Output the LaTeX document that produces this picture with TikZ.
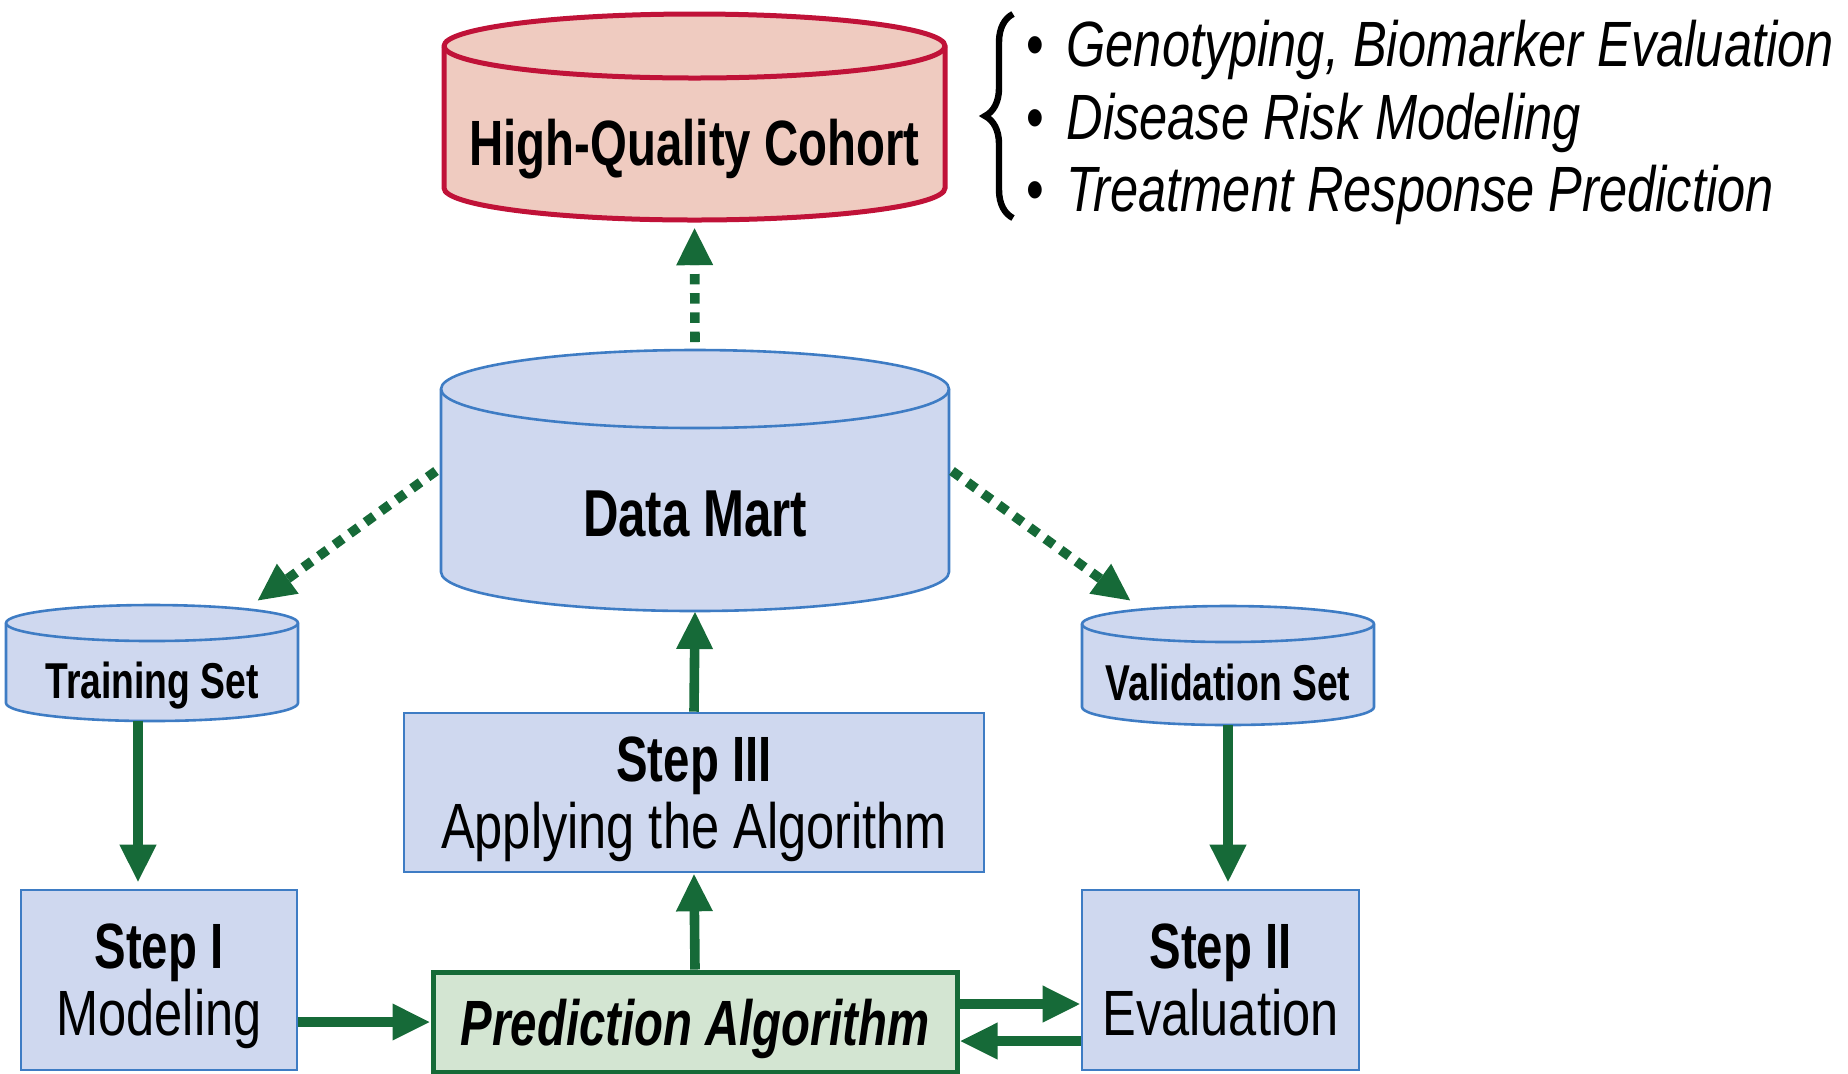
\documentclass[tikz,border=0pt]{standalone}
\usepackage{fontspec}
\setmainfont{Liberation Sans}[FakeStretch=0.79]
\newfontfamily\headfont{Liberation Sans}[FakeStretch=0.74]
\usetikzlibrary{arrows.meta,decorations.pathreplacing}

\definecolor{boxblue}{RGB}{207,216,239}
\definecolor{lineblue}{RGB}{62,124,196}
\definecolor{cohortred}{RGB}{192,18,56}
\definecolor{cohortpink}{RGB}{239,203,192}
\definecolor{flowgreen}{RGB}{22,106,56}
\definecolor{algogreen}{RGB}{211,229,210}

% cylinder: style, cx, top, bottom, half width, y radius, name
\newcommand{\dbcyl}[7]{%
  \path[#1] ({#2-#5},{-#3-#6}) -- ({#2-#5},{-#4+#6})
    arc[start angle=180,end angle=360,x radius=#5,y radius=#6]
    -- ({#2+#5},{-#3-#6})
    arc[start angle=0,end angle=180,x radius=#5,y radius=#6] -- cycle;
  \draw[#1,fill=none] ({#2-#5},{-#3-#6})
    arc[start angle=180,end angle=360,x radius=#5,y radius=#6];
  \coordinate (#7-n) at (#2,-#3);
  \coordinate (#7-s) at (#2,-#4);
}

\tikzset{
  hqcyl/.style={draw=cohortred, fill=cohortpink, line width=1.25pt},
  setcyl/.style={draw=lineblue, fill=boxblue, line width=0.65pt},
  cyltext/.style={inner sep=0pt, font=\headfont\bfseries\fontsize{16}{18}\selectfont},
  settext/.style={inner sep=0pt, font=\headfont\bfseries\fontsize{12.6}{14}\selectfont},
  stepbox/.style={draw=lineblue, fill=boxblue, line width=0.65pt, align=center,
    text depth=0pt, inner sep=0pt, font=\fontsize{16}{16.75}\selectfont},
  algobox/.style={draw=flowgreen, fill=algogreen, line width=1.25pt,
    text depth=0pt, inner sep=0pt, font=\headfont\bfseries\itshape\fontsize{16}{18}\selectfont},
  flow/.style={draw=flowgreen, line width=2.4pt, -{Triangle[length=9.5pt,width=8.5pt]}},
  dotflow/.style={flow, dash pattern=on 2.6pt off 2.2pt},
}

\begin{document}
\begin{tikzpicture}[x=0.25pt,y=0.25pt]
\useasboundingbox (0,0) rectangle (1848,-1073);

% databases
\dbcyl{hqcyl}{694.5}{14}{220}{250.5}{32}{hq}
\dbcyl{setcyl}{695}{350}{611}{254}{39}{dm}
\dbcyl{setcyl}{152}{605}{721}{146}{18}{train}
\dbcyl{setcyl}{1228}{606}{725}{146}{18}{valid}

\node[cyltext, anchor=base] (hq) at (694.5,-165) {High-Quality Cohort};
\node[cyltext, anchor=base, font=\headfont\bfseries\fontsize{16.6}{18}\selectfont] (dm) at (695,-536) {Data Mart};
\node[settext, anchor=base] (train) at (152,-698) {Training Set};
\node[settext, anchor=base] (valid) at (1228,-700) {Validation Set};

% steps
\node[stepbox, minimum width=145pt, minimum height=39.75pt] (step3) at (694,-792.5)
  {{\headfont\bfseries Step III}\\Applying the Algorithm};
\node[stepbox, minimum width=69pt, minimum height=45pt] (step1) at (159,-980)
  {{\headfont\bfseries Step I}\\Modeling};
\node[stepbox, minimum width=69.25pt, minimum height=45pt] (step2) at (1220.5,-980)
  {{\headfont\bfseries Step II}\\Evaluation};
\node[algobox, minimum width=131pt, minimum height=25pt] (algo) at (695,-1022)
  {Prediction Algorithm};

% uses of the cohort
\draw[line width=1.6pt, decorate, decoration={brace, amplitude=7pt}]
  (1013,-218) -- (1013,-14);
\node[anchor=west, align=left, inner sep=0pt, text depth=0pt,
  font=\fontsize{16}{18.1}\selectfont] (uses) at (1026,-116)
  {\textbullet\hspace{5.5pt}\textit{Genotyping, Biomarker Evaluation}\\
   \textbullet\hspace{5.5pt}\textit{Disease Risk Modeling}\\
   \textbullet\hspace{5.5pt}\textit{Treatment Response Prediction}};

% connectors
\coordinate (dm-w) at (436,-471);
\coordinate (dm-e) at (952,-471);
\coordinate (train-ne) at (257,-601);
\coordinate (valid-nw) at (1131,-601);

\draw[dotflow, shorten <=2pt, shorten >=1.8pt] (dm-n) -- (hq-s);
\draw[dotflow] (dm-w) -- (train-ne);
\draw[dotflow] (dm-e) -- (valid-nw);
\draw[flow] (step3.north) -- (dm-s);
\draw[flow] (algo.north) -- (step3.south);
\draw[flow, shorten >=1.5pt] ([xshift=-3.5pt]train-s) -- ([xshift=-3.5pt]train-s |- step1.north);
\draw[flow, shorten >=1.5pt] (valid-s) -- (valid-s |- step2.north);
\draw[flow] (step1.east |- algo.west) -- (algo.west);
\draw[flow] ([yshift=4.5pt]algo.east) -- ([yshift=4.5pt]algo.east -| step2.west);
\draw[flow] ([yshift=-4.75pt]algo.east -| step2.west) -- ([yshift=-4.75pt]algo.east);
\end{tikzpicture}
\end{document}
